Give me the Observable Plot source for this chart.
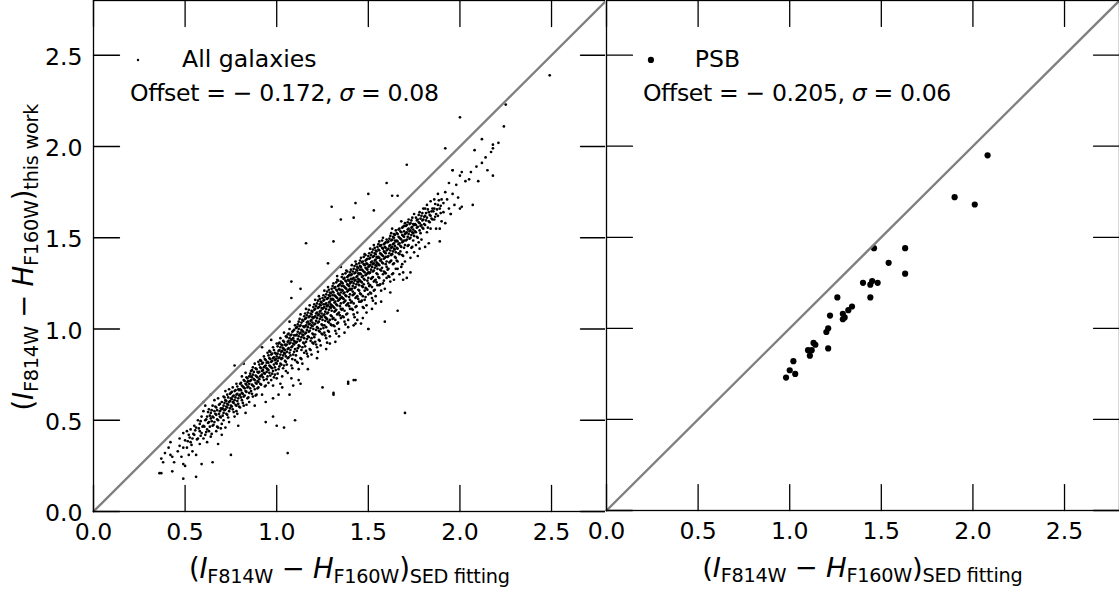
<!DOCTYPE html>
<html><head><meta charset="utf-8">
<script src="https://cdn.jsdelivr.net/npm/d3@7"></script>
<script src="https://cdn.jsdelivr.net/npm/@observablehq/plot@0.6"></script>
<style>
html,body{margin:0;padding:0;background:#fff;overflow:hidden;}
#wrap{position:relative;width:1119px;height:590px;overflow:hidden;background:#fff;}
#left,#right{position:absolute;top:0;}
#left{left:0;}
#right{left:605px;}
svg{display:block;overflow:visible;}
</style></head><body><div id="wrap"><div id="left"></div><div id="right"></div></div>
<script>
// ---------- data ----------
const xTicks = [0, 0.5, 1, 1.5, 2, 2.5];
const yTicks = [0, 0.5, 1, 1.5, 2, 2.5];
const axisDomain = [0, 2.8];
const oneToOne = [0, 2.8];
const panelNames = ["All galaxies", "PSB"];
const panelOffsets = [-0.172, -0.205];
const panelSigmas = [0.08, 0.06];
const xTitleSub = "SED fitting";
const yTitleSub = "this work";

const allGalaxiesA = [
[0.36,0.21],[0.37,0.29],[0.38,0.27],[0.39,0.32],
[0.42,0.31],[0.43,0.30],[0.43,0.22],[0.41,0.35],[0.44,0.27],[0.42,0.38],
[0.46,0.33],[0.47,0.40],[0.48,0.30],[0.49,0.35],[0.50,0.25],[0.49,0.26],[0.47,0.36],[0.49,0.43],
[0.50,0.39],[0.51,0.44],[0.51,0.35],[0.52,0.42],[0.52,0.31],[0.53,0.45],[0.53,0.38],[0.54,0.40],[0.54,0.33],[0.55,0.47],
[0.55,0.42],[0.56,0.31],[0.56,0.46],[0.56,0.19],[0.57,0.40],[0.57,0.50],[0.58,0.44],[0.58,0.37],[0.58,0.48],[0.59,0.43],[0.59,0.26],[0.59,0.52],[0.60,0.40],
[0.60,0.47],[0.60,0.55],[0.61,0.42],[0.61,0.50],[0.61,0.58],[0.62,0.45],[0.62,0.52],[0.62,0.38],[0.63,0.49],[0.63,0.56],[0.63,0.44],[0.64,0.51],[0.64,0.41],[0.64,0.54],[0.65,0.27],[0.65,0.47],
[0.65,0.52],[0.65,0.58],[0.66,0.49],[0.66,0.55],[0.66,0.61],[0.67,0.44],[0.67,0.53],[0.67,0.57],[0.68,0.50],[0.68,0.62],[0.68,0.46],[0.69,0.55],[0.69,0.52],[0.69,0.59],[0.70,0.48],[0.70,0.56],[0.70,0.42],[0.68,0.37],
[0.70,0.60],[0.71,0.54],[0.71,0.58],[0.71,0.63],[0.71,0.50],[0.72,0.56],[0.72,0.61],[0.72,0.46],[0.72,0.66],[0.73,0.59],[0.73,0.53],[0.73,0.57],[0.73,0.64],[0.74,0.49],[0.74,0.60],[0.74,0.55],[0.74,0.67],[0.75,0.58],[0.75,0.31],[0.75,0.62],
[0.75,0.65],[0.76,0.60],[0.76,0.56],[0.76,0.68],[0.76,0.63],[0.77,0.52],[0.77,0.61],[0.77,0.66],[0.77,0.80],[0.78,0.58],[0.78,0.64],[0.78,0.70],[0.78,0.55],[0.79,0.62],[0.79,0.67],[0.79,0.47],[0.79,0.59],[0.80,0.64],[0.80,0.70],[0.80,0.57],
[0.80,0.67],[0.81,0.61],[0.81,0.69],[0.81,0.74],[0.81,0.65],[0.82,0.58],[0.82,0.68],[0.82,0.72],[0.82,0.63],[0.83,0.70],[0.83,0.66],[0.83,0.76],[0.83,0.54],[0.84,0.68],[0.84,0.62],[0.84,0.73],[0.84,0.71],[0.85,0.65],[0.85,0.74],[0.85,0.60],
[0.85,0.70],[0.86,0.72],[0.86,0.77],[0.86,0.66],[0.86,0.74],[0.87,0.69],[0.87,0.79],[0.87,0.63],[0.87,0.75],[0.88,0.72],[0.88,0.67],[0.88,0.81],[0.88,0.58],[0.89,0.74],[0.89,0.70],[0.89,0.78],[0.89,0.64],[0.90,0.76],[0.90,0.71],[0.90,0.82],
[0.90,0.68],[0.91,0.74],[0.91,0.79],[0.91,0.83],[0.91,0.70],[0.92,0.77],[0.92,0.81],[0.92,0.64],[0.92,0.75],[0.93,0.79],[0.93,0.72],[0.93,0.85],[0.93,0.76],[0.94,0.80],[0.94,0.69],[0.94,0.83],[0.94,0.60],[0.95,0.78],[0.95,0.74],[0.95,0.87],[0.92,0.90],[0.95,0.82],
[0.96,0.80],[0.96,0.84],[0.96,0.76],[0.96,0.88],[0.97,0.82],[0.97,0.72],[0.97,0.86],[0.97,0.79],[0.98,0.84],[0.98,0.77],[0.98,0.90],[0.98,0.69],[0.99,0.83],[0.99,0.87],[0.99,0.79],[0.99,0.75],[1.00,0.85],[1.00,0.81],[1.00,0.92],[1.00,0.73],[0.98,0.62],[0.97,0.94],
[1.01,0.84],[1.01,0.88],[1.01,0.92],[1.01,0.78],[1.02,0.86],[1.02,0.90],[1.02,0.81],[1.02,0.95],[1.03,0.88],[1.03,0.84],[1.03,0.74],[1.03,0.91],[1.04,0.87],[1.04,0.93],[1.04,0.80],[1.04,0.89],[1.05,0.85],[1.05,0.96],[1.05,0.91],[1.05,0.77],[1.03,0.68],[1.04,0.98],[1.02,0.70],[1.05,0.82],
[1.06,0.93],[1.06,0.89],[1.06,0.97],[1.06,0.84],[1.07,0.92],[1.07,0.95],[1.07,0.87],[1.07,1.00],[1.08,0.94],[1.08,0.90],[1.08,0.80],[1.08,0.97],[1.09,0.92],[1.09,0.99],[1.09,0.86],[1.09,0.95],[1.10,0.93],[1.10,0.89],[1.10,1.02],[1.10,0.83],[1.08,0.73],[1.06,0.76],[1.09,0.69],[1.07,1.04],
[1.11,0.97],[1.11,0.93],[1.11,1.01],[1.11,0.88],[1.12,0.96],[1.12,1.00],[1.12,0.91],[1.12,1.04],[1.13,0.98],[1.13,0.94],[1.13,0.84],[1.13,1.02],[1.14,0.97],[1.14,1.05],[1.14,0.90],[1.14,0.99],[1.15,0.95],[1.15,1.01],[1.15,1.07],[1.15,0.87],[1.12,0.78],[1.14,0.81],[1.13,1.08],[1.11,0.82],[1.15,0.92],[1.12,0.72],
[1.16,1.02],[1.16,0.98],[1.16,1.06],[1.16,0.93],[1.17,1.01],[1.17,1.04],[1.17,0.96],[1.17,1.09],[1.18,1.03],[1.18,0.99],[1.18,0.89],[1.18,1.07],[1.19,1.02],[1.19,1.10],[1.19,0.95],[1.19,1.05],[1.20,1.00],[1.20,1.06],[1.20,1.12],[1.20,0.92],[1.17,0.85],[1.19,0.86],[1.18,1.13],[1.16,0.88],[1.20,0.97],[1.17,0.78],[1.19,1.08],[1.16,1.11],
[1.21,1.07],[1.21,1.03],[1.21,1.11],[1.21,0.97],[1.22,1.06],[1.22,1.09],[1.22,1.01],[1.22,1.14],[1.23,1.08],[1.23,1.04],[1.23,0.94],[1.23,1.12],[1.24,1.07],[1.24,1.15],[1.24,1.00],[1.24,1.10],[1.25,1.05],[1.25,1.11],[1.25,1.17],[1.25,0.97],[1.22,0.90],[1.24,0.91],[1.23,1.18],[1.21,0.93],[1.25,1.02],[1.22,0.84],[1.24,1.13],[1.21,1.16],[1.23,0.99],[1.25,0.68],
[1.26,1.12],[1.26,1.08],[1.26,1.16],[1.26,1.02],[1.27,1.11],[1.27,1.14],[1.27,1.06],[1.27,1.19],[1.28,1.13],[1.28,1.09],[1.28,0.99],[1.28,1.17],[1.29,1.12],[1.29,1.20],[1.29,1.05],[1.29,1.15],[1.30,1.10],[1.30,1.16],[1.30,1.22],[1.30,1.02],[1.27,0.95],[1.29,0.96],[1.28,1.23],[1.26,0.98],[1.30,1.07],[1.27,0.89],[1.29,1.18],[1.26,1.21],[1.28,1.04],[1.30,1.13],[1.27,1.01],[1.29,0.92],
[1.31,1.16],[1.31,1.12],[1.31,1.20],[1.31,1.06],[1.32,1.15],[1.32,1.18],[1.32,1.10],[1.32,1.23],[1.33,1.17],[1.33,1.13],[1.33,1.03],[1.33,1.21],[1.34,1.16],[1.34,1.24],[1.34,1.09],[1.34,1.19],[1.35,1.14],[1.35,1.20],[1.35,1.26],[1.35,1.06],[1.32,0.99],[1.34,1.00],[1.33,1.27],[1.31,1.02],[1.35,1.11],[1.32,0.93],[1.34,1.22],[1.31,1.25],[1.33,1.08],[1.35,1.17],[1.32,1.05],[1.34,0.96],[1.31,0.64],[1.33,1.29],
[1.36,1.21],[1.36,1.17],[1.36,1.25],[1.36,1.11],[1.37,1.20],[1.37,1.23],[1.37,1.15],[1.37,1.28],[1.38,1.22],[1.38,1.18],[1.38,1.08],[1.38,1.26],[1.39,1.21],[1.39,1.29],[1.39,1.14],[1.39,1.24],[1.40,1.19],[1.40,1.25],[1.40,1.31],[1.40,1.11],[1.37,1.04],[1.39,1.05],[1.38,1.32],[1.36,1.07],[1.40,1.16],[1.37,0.98],[1.39,1.27],[1.36,1.30],[1.38,1.13],[1.40,1.22],[1.37,1.10],[1.39,1.01],[1.39,0.70],[1.35,1.34],
[1.41,1.26],[1.41,1.22],[1.41,1.30],[1.41,1.15],[1.42,1.25],[1.42,1.28],[1.42,1.19],[1.42,1.33],[1.43,1.27],[1.43,1.23],[1.43,1.12],[1.43,1.31],[1.44,1.26],[1.44,1.34],[1.44,1.18],[1.44,1.29],[1.45,1.24],[1.45,1.30],[1.45,1.36],[1.45,1.15],[1.42,1.08],[1.44,1.09],[1.43,1.37],[1.41,1.11],[1.45,1.21],[1.42,1.02],[1.44,1.32],[1.41,1.35],[1.43,1.17],[1.45,1.27],[1.42,1.14],[1.44,1.05],[1.42,0.72],[1.43,1.03],
[1.46,1.30],[1.46,1.26],[1.46,1.34],[1.46,1.19],[1.47,1.29],[1.47,1.32],[1.47,1.23],[1.47,1.37],[1.48,1.31],[1.48,1.27],[1.48,1.16],[1.48,1.35],[1.49,1.30],[1.49,1.38],[1.49,1.22],[1.49,1.33],[1.50,1.28],[1.50,1.34],[1.50,1.40],[1.50,1.19],[1.47,1.12],[1.49,1.13],[1.48,1.41],[1.46,1.15],[1.50,1.25],[1.47,1.06],[1.49,1.36],[1.46,1.39],[1.48,1.21],[1.50,1.31],[1.47,1.18],[1.49,1.09],[1.50,1.00],[1.46,1.03],
[1.51,1.35],[1.51,1.31],[1.51,1.39],[1.51,1.24],[1.52,1.34],[1.52,1.37],[1.52,1.28],[1.52,1.42],[1.53,1.36],[1.53,1.32],[1.53,1.21],[1.53,1.40],[1.54,1.35],[1.54,1.43],[1.54,1.27],[1.54,1.38],[1.55,1.33],[1.55,1.39],[1.55,1.45],[1.55,1.24],[1.52,1.17],[1.54,1.18],[1.53,1.46],[1.51,1.20],[1.55,1.30],[1.52,1.11],[1.54,1.41],[1.51,1.44],[1.53,1.26],[1.55,1.36],[1.52,1.23],[1.54,1.14],
[1.56,1.39],[1.56,1.35],[1.56,1.43],[1.56,1.28],[1.57,1.38],[1.57,1.41],[1.57,1.32],[1.57,1.46],[1.58,1.40],[1.58,1.36],[1.58,1.25],[1.58,1.44],[1.59,1.39],[1.59,1.47],[1.59,1.31],[1.59,1.42],[1.60,1.37],[1.60,1.43],[1.60,1.49],[1.60,1.28],[1.57,1.21],[1.59,1.22],[1.58,1.50],[1.56,1.24],[1.60,1.34],[1.57,1.15],[1.59,1.45],[1.56,1.48],[1.58,1.30],[1.59,1.04],
[1.61,1.44],[1.61,1.40],[1.61,1.48],[1.61,1.33],[1.62,1.43],[1.62,1.46],[1.62,1.37],[1.62,1.51],[1.63,1.45],[1.63,1.41],[1.63,1.30],[1.63,1.49],[1.64,1.44],[1.64,1.52],[1.64,1.36],[1.64,1.47],[1.65,1.42],[1.65,1.48],[1.65,1.54],[1.65,1.33],[1.62,1.26],[1.64,1.27],[1.63,1.55],[1.61,1.29],[1.65,1.39],[1.62,1.20],[1.64,1.50],[1.66,1.10],
[1.66,1.48],[1.66,1.44],[1.66,1.52],[1.66,1.37],[1.67,1.47],[1.67,1.50],[1.67,1.41],[1.67,1.55],[1.68,1.49],[1.68,1.45],[1.68,1.34],[1.68,1.53],[1.69,1.48],[1.69,1.56],[1.69,1.40],[1.69,1.51],[1.70,1.46],[1.70,1.52],[1.70,1.58],[1.70,1.37],[1.67,1.30],[1.69,1.31],[1.68,1.59],[1.66,1.33],[1.70,0.54],[1.69,1.27],
[1.71,1.53],[1.71,1.49],[1.71,1.57],[1.71,1.42],[1.72,1.52],[1.72,1.55],[1.72,1.46],[1.72,1.60],[1.73,1.54],[1.73,1.50],[1.73,1.39],[1.73,1.58],[1.74,1.53],[1.74,1.61],[1.74,1.45],[1.74,1.56],[1.75,1.51],[1.75,1.57],[1.75,1.63],[1.75,1.42],[1.73,1.31],[1.71,1.28],
[1.76,1.57],[1.76,1.53],[1.76,1.61],[1.76,1.46],[1.77,1.56],[1.77,1.60],[1.77,1.50],[1.78,1.58],[1.78,1.54],[1.78,1.64],[1.78,1.44],[1.79,1.57],[1.79,1.62],[1.79,1.49],[1.80,1.55],[1.80,1.66],[1.80,1.60],[1.77,1.40],
[1.81,1.62],[1.81,1.57],[1.81,1.66],[1.82,1.53],[1.82,1.61],[1.82,1.68],[1.83,1.59],[1.83,1.64],[1.83,1.47],[1.84,1.62],[1.84,1.70],[1.84,1.55],[1.85,1.60],[1.85,1.66],
[1.86,1.66],[1.86,1.60],[1.86,1.71],[1.87,1.63],[1.87,1.55],[1.88,1.68],[1.88,1.74],[1.88,1.62],[1.89,1.48],[1.89,1.66],[1.90,1.71],[1.90,1.59],
[1.91,1.69],[1.91,1.64],[1.92,1.75],[1.92,1.58],[1.93,1.71],[1.94,1.66],[1.94,1.80],[1.95,1.63],
[1.96,1.74],[1.96,1.87],[1.97,1.68],[1.98,1.79],[1.99,1.72],[2.00,1.84],[2.00,1.66],
[2.25,2.23],[2.24,2.11],[2.21,2.02],[2.18,2.01],[2.18,1.99],[2.17,1.97],[2.12,2.04],[2.08,1.98],[2.14,1.94],[2.12,1.91],[2.09,1.89],[2.15,1.87],[2.18,1.84],[2.10,1.81],[2.06,1.86],[2.05,1.82],[2.03,1.81],[2.01,1.86],[1.96,1.87],[2.01,1.67],[2.07,1.68],[1.95,1.63],[1.89,1.55],[1.81,1.45],
[1.30,1.67],[1.35,1.60],[1.43,1.69],[1.16,1.47],[1.08,1.26],[1.08,1.17],[1.13,1.22],[1.31,1.48],[1.28,1.36],[1.42,1.61],[1.50,1.74],[1.53,1.65],[1.60,1.80],[1.71,1.90],[1.92,1.99],[2.00,2.16],
[1.50,1.00],[1.39,0.71],[1.43,0.72],[1.31,0.65],[1.06,0.32],[0.49,0.18],[1.63,1.73],[1.66,1.73],[2.49,2.39],[0.82,0.81],[0.64,0.64],[0.60,0.60],[1.10,0.50],[1.04,0.46],[1.00,0.47],[0.94,0.49],[0.98,0.52],[1.07,0.64],[1.13,0.70],[1.01,0.64],[0.37,0.21]
];

const allGalaxiesB = [
[0.515,0.385],[0.525,0.405],[0.535,0.365],[0.545,0.425],[0.555,0.445],[0.565,0.395],[0.575,0.455],[0.585,0.415],[0.595,0.465],[0.585,0.495],
[0.605,0.465],[0.615,0.505],[0.615,0.435],[0.625,0.485],[0.625,0.545],[0.635,0.465],[0.635,0.525],[0.645,0.495],[0.645,0.425],[0.645,0.555],
[0.655,0.515],[0.655,0.475],[0.665,0.535],[0.665,0.575],[0.675,0.505],[0.675,0.555],[0.675,0.465],[0.685,0.535],[0.685,0.585],[0.695,0.515],[0.695,0.565],[0.695,0.455],
[0.705,0.565],[0.705,0.525],[0.715,0.595],[0.715,0.555],[0.715,0.625],[0.725,0.575],[0.725,0.535],[0.725,0.605],[0.735,0.585],[0.735,0.625],[0.735,0.515],[0.745,0.605],[0.745,0.565],[0.745,0.645],
[0.755,0.615],[0.755,0.575],[0.755,0.655],[0.765,0.635],[0.765,0.595],[0.765,0.545],[0.775,0.625],[0.775,0.665],[0.775,0.585],[0.785,0.645],[0.785,0.605],[0.785,0.685],[0.795,0.635],[0.795,0.575],[0.795,0.665],[0.785,0.535],
[0.805,0.665],[0.805,0.625],[0.805,0.705],[0.815,0.685],[0.815,0.645],[0.815,0.595],[0.825,0.675],[0.825,0.715],[0.825,0.635],[0.835,0.695],[0.835,0.655],[0.835,0.735],[0.845,0.685],[0.845,0.625],[0.845,0.715],[0.835,0.585],
[0.855,0.715],[0.855,0.675],[0.855,0.755],[0.865,0.735],[0.865,0.695],[0.865,0.645],[0.875,0.725],[0.875,0.765],[0.875,0.685],[0.885,0.745],[0.885,0.705],[0.885,0.785],[0.895,0.735],[0.895,0.675],[0.895,0.765],[0.885,0.635],[0.865,0.775],[0.895,0.715],
[0.905,0.765],[0.905,0.725],[0.905,0.805],[0.915,0.785],[0.915,0.745],[0.915,0.695],[0.925,0.775],[0.925,0.815],[0.925,0.735],[0.935,0.795],[0.935,0.755],[0.935,0.835],[0.945,0.785],[0.945,0.725],[0.945,0.815],[0.935,0.685],[0.915,0.825],[0.945,0.765],
[0.955,0.815],[0.955,0.775],[0.955,0.855],[0.965,0.835],[0.965,0.795],[0.965,0.745],[0.975,0.825],[0.975,0.865],[0.975,0.785],[0.985,0.845],[0.985,0.805],[0.985,0.885],[0.995,0.835],[0.995,0.775],[0.995,0.865],[0.985,0.735],[0.965,0.875],[0.995,0.815],[0.955,0.705],[0.975,0.755],
[1.005,0.865],[1.005,0.825],[1.005,0.905],[1.015,0.885],[1.015,0.845],[1.015,0.795],[1.025,0.875],[1.025,0.915],[1.025,0.835],[1.035,0.895],[1.035,0.855],[1.035,0.935],[1.045,0.885],[1.045,0.825],[1.045,0.915],[1.035,0.785],[1.015,0.925],[1.045,0.865],[1.005,0.755],[1.025,0.805],
[1.055,0.915],[1.055,0.875],[1.055,0.955],[1.065,0.935],[1.065,0.895],[1.065,0.845],[1.075,0.925],[1.075,0.965],[1.075,0.885],[1.085,0.945],[1.085,0.905],[1.085,0.985],[1.095,0.935],[1.095,0.875],[1.095,0.965],[1.085,0.835],[1.065,0.975],[1.095,0.915],[1.055,0.805],[1.075,0.855],[1.085,0.785],[1.095,0.995],
[1.105,0.965],[1.105,0.925],[1.105,1.005],[1.115,0.985],[1.115,0.945],[1.115,0.895],[1.125,0.975],[1.125,1.015],[1.125,0.935],[1.135,0.995],[1.135,0.955],[1.135,1.035],[1.145,0.985],[1.145,0.925],[1.145,1.015],[1.135,0.885],[1.115,1.025],[1.145,0.965],[1.105,0.855],[1.125,0.905],[1.135,0.835],[1.145,1.045],[1.115,0.815],[1.125,1.055],
[1.155,1.015],[1.155,0.975],[1.155,1.055],[1.165,1.035],[1.165,0.995],[1.165,0.945],[1.175,1.025],[1.175,1.065],[1.175,0.985],[1.185,1.045],[1.185,1.005],[1.185,1.085],[1.195,1.035],[1.195,0.975],[1.195,1.065],[1.185,0.935],[1.165,1.075],[1.195,1.015],[1.155,0.905],[1.175,0.955],[1.185,0.885],[1.195,1.095],[1.165,0.865],[1.175,1.105],[1.155,1.085],[1.195,0.925],
[1.205,1.065],[1.205,1.025],[1.205,1.105],[1.215,1.085],[1.215,1.045],[1.215,0.995],[1.225,1.075],[1.225,1.115],[1.225,1.035],[1.235,1.095],[1.235,1.055],[1.235,1.135],[1.245,1.085],[1.245,1.025],[1.245,1.115],[1.235,0.985],[1.215,1.125],[1.245,1.065],[1.205,0.955],[1.225,1.005],[1.235,0.935],[1.245,1.145],[1.215,0.915],[1.225,1.155],[1.205,1.135],[1.245,0.975],[1.225,0.875],[1.235,1.165],
[1.255,1.115],[1.255,1.075],[1.255,1.155],[1.265,1.135],[1.265,1.095],[1.265,1.045],[1.275,1.125],[1.275,1.165],[1.275,1.085],[1.285,1.145],[1.285,1.105],[1.285,1.185],[1.295,1.135],[1.295,1.075],[1.295,1.165],[1.285,1.035],[1.265,1.175],[1.295,1.115],[1.255,1.005],[1.275,1.055],[1.285,0.985],[1.295,1.195],[1.265,0.965],[1.275,1.205],[1.255,1.185],[1.295,1.025],[1.275,0.925],[1.285,1.215],[1.265,1.065],[1.255,1.135],
[1.305,1.165],[1.305,1.125],[1.305,1.205],[1.315,1.185],[1.315,1.145],[1.315,1.095],[1.325,1.175],[1.325,1.215],[1.325,1.135],[1.335,1.195],[1.335,1.155],[1.335,1.235],[1.345,1.185],[1.345,1.125],[1.345,1.215],[1.335,1.085],[1.315,1.225],[1.345,1.165],[1.305,1.055],[1.325,1.105],[1.335,1.035],[1.345,1.245],[1.315,1.015],[1.325,1.255],[1.305,1.235],[1.345,1.075],[1.325,0.975],[1.335,1.265],[1.315,1.115],[1.305,1.185],
[1.355,1.215],[1.355,1.175],[1.355,1.255],[1.365,1.235],[1.365,1.195],[1.365,1.145],[1.375,1.225],[1.375,1.265],[1.375,1.185],[1.385,1.245],[1.385,1.205],[1.385,1.285],[1.395,1.235],[1.395,1.175],[1.395,1.265],[1.385,1.135],[1.365,1.275],[1.395,1.215],[1.355,1.105],[1.375,1.155],[1.385,1.085],[1.395,1.295],[1.365,1.065],[1.375,1.305],[1.355,1.285],[1.395,1.125],[1.375,1.025],[1.385,1.315],[1.365,1.165],[1.355,1.235],
[1.405,1.255],[1.405,1.215],[1.405,1.295],[1.415,1.275],[1.415,1.235],[1.415,1.185],[1.425,1.265],[1.425,1.305],[1.425,1.225],[1.435,1.285],[1.435,1.245],[1.435,1.325],[1.445,1.275],[1.445,1.215],[1.445,1.305],[1.435,1.175],[1.415,1.315],[1.445,1.255],[1.405,1.145],[1.425,1.195],[1.435,1.125],[1.445,1.335],[1.415,1.105],[1.425,1.345],[1.405,1.325],[1.445,1.165],[1.425,1.065],[1.435,1.355],[1.415,1.205],[1.405,1.275],
[1.455,1.305],[1.455,1.265],[1.455,1.345],[1.465,1.325],[1.465,1.285],[1.465,1.235],[1.475,1.315],[1.475,1.355],[1.475,1.275],[1.485,1.335],[1.485,1.295],[1.485,1.375],[1.495,1.325],[1.495,1.265],[1.495,1.355],[1.485,1.225],[1.465,1.365],[1.495,1.305],[1.455,1.195],[1.475,1.245],[1.485,1.175],[1.495,1.385],[1.465,1.155],[1.475,1.395],[1.455,1.375],[1.495,1.215],[1.475,1.115],[1.485,1.405],[1.465,1.255],[1.455,1.325],
[1.505,1.345],[1.505,1.305],[1.505,1.385],[1.515,1.365],[1.515,1.325],[1.515,1.275],[1.525,1.355],[1.525,1.395],[1.525,1.315],[1.535,1.375],[1.535,1.335],[1.535,1.415],[1.545,1.365],[1.545,1.305],[1.545,1.395],[1.535,1.265],[1.515,1.405],[1.545,1.345],[1.505,1.235],[1.525,1.285],[1.535,1.215],[1.545,1.425],[1.515,1.195],[1.525,1.435],[1.505,1.415],[1.545,1.255],[1.525,1.155],[1.535,1.445],
[1.555,1.395],[1.555,1.355],[1.555,1.435],[1.565,1.415],[1.565,1.375],[1.565,1.325],[1.575,1.405],[1.575,1.445],[1.575,1.365],[1.585,1.425],[1.585,1.385],[1.585,1.465],[1.595,1.415],[1.595,1.355],[1.595,1.445],[1.585,1.315],[1.565,1.455],[1.595,1.395],[1.555,1.285],[1.575,1.335],[1.585,1.265],[1.595,1.475],[1.565,1.245],[1.575,1.485],[1.555,1.465],[1.595,1.305],
[1.605,1.435],[1.605,1.395],[1.605,1.475],[1.615,1.455],[1.615,1.415],[1.615,1.365],[1.625,1.445],[1.625,1.485],[1.625,1.405],[1.635,1.465],[1.635,1.425],[1.635,1.505],[1.645,1.455],[1.645,1.395],[1.645,1.485],[1.635,1.355],[1.615,1.495],[1.645,1.435],[1.605,1.325],[1.625,1.375],[1.635,1.305],[1.645,1.515],[1.615,1.285],[1.625,1.525],
[1.655,1.485],[1.655,1.445],[1.655,1.525],[1.665,1.505],[1.665,1.465],[1.665,1.415],[1.675,1.495],[1.675,1.535],[1.675,1.455],[1.685,1.515],[1.685,1.475],[1.685,1.555],[1.695,1.505],[1.695,1.445],[1.695,1.535],[1.685,1.405],[1.665,1.545],[1.695,1.485],[1.655,1.375],[1.675,1.425],[1.685,1.355],[1.695,1.565],
[1.705,1.525],[1.705,1.485],[1.705,1.565],[1.715,1.545],[1.715,1.505],[1.715,1.455],[1.725,1.535],[1.725,1.575],[1.725,1.495],[1.735,1.555],[1.735,1.515],[1.735,1.595],[1.745,1.545],[1.745,1.485],[1.745,1.575],[1.735,1.445],[1.715,1.585],[1.745,1.525],
[1.755,1.575],[1.755,1.535],[1.765,1.595],[1.765,1.555],[1.765,1.505],[1.775,1.585],[1.775,1.625],[1.785,1.565],[1.785,1.605],[1.785,1.525],[1.795,1.595],[1.795,1.555],[1.795,1.635],[1.775,1.475],
[1.805,1.615],[1.805,1.575],[1.815,1.635],[1.815,1.595],[1.825,1.655],[1.825,1.555],[1.835,1.625],[1.835,1.585],[1.845,1.645],[1.845,1.605],
[1.855,1.645],[1.865,1.685],[1.865,1.615],[1.875,1.655],[1.885,1.705],[1.895,1.635],[1.895,1.675]
];
const allGalaxies = allGalaxiesA.concat(allGalaxiesB);

const psbX = [2.08,1.90,2.01,1.46,1.63,1.54,1.63,1.40,1.45,1.44,1.48,1.44,1.26,1.34,1.32,1.29,1.30,1.29,1.22,1.21,1.20,1.21,1.13,1.14,1.10,1.12,1.11,1.02,1.00,1.03,0.98];
const psbY = [1.95,1.72,1.68,1.44,1.44,1.36,1.30,1.25,1.26,1.24,1.25,1.17,1.17,1.12,1.10,1.08,1.06,1.05,1.07,1.00,0.98,0.89,0.92,0.91,0.88,0.88,0.85,0.82,0.77,0.75,0.73];
const psb = psbX.map((x, i) => ({x, y: psbY[i]}));

// ---------- helpers ----------
const FONT = "DejaVu Sans";
const tickShape = {draw(context, l) { context.moveTo(0, 0); context.lineTo(0, -l); }};
const tickLen = 26, lineW = 1.3;
function tickMarks() {
  const common = {length: tickLen, anchor: "start", shape: tickShape, stroke: "black", strokeWidth: lineW};
  return [
    Plot.vector(xTicks, {x: d => d, frameAnchor: "bottom", rotate: 0, ...common}),
    Plot.vector(xTicks, {x: d => d, frameAnchor: "top", rotate: 180, ...common}),
    Plot.vector(yTicks, {y: d => d, frameAnchor: "left", rotate: 90, ...common}),
    Plot.vector(yTicks, {y: d => d, frameAnchor: "right", rotate: 270, ...common})
  ];
}
const fmt = d => d.toFixed(1);
const minus = "\u2212";

function addLegend(svg, x0, idx, markerR) {
  const g = svg.append("g").attr("font-family", FONT).attr("font-size", 23.6)
    .attr("fill", "black").attr("text-anchor", "start");
  g.append("circle").attr("cx", x0 + 45).attr("cy", 60).attr("r", markerR).attr("fill", "black");
  g.append("text").attr("x", x0 + 89).attr("y", 67).attr("text-anchor", "start").text(panelNames[idx]);
  const t = g.append("text").attr("x", x0 + 37).attr("y", 101).attr("text-anchor", "start")
    .attr("textLength", 309).attr("lengthAdjust", "spacing");
  const off = panelOffsets[idx];
  t.append("tspan").text("Offset = " + (off < 0 ? minus + " " : "") + Math.abs(off).toFixed(3) + ", ");
  t.append("tspan").attr("font-style", "italic").text("\u03C3");
  t.append("tspan").text(" = " + panelSigmas[idx].toFixed(2));
}

function addTitle(sel, sub, len) {
  const t = sel.append("text").attr("font-family", FONT).attr("font-size", 27.5)
    .attr("fill", "black").attr("text-anchor", "middle")
    .attr("textLength", len).attr("lengthAdjust", "spacing");
  t.append("tspan").text("(");
  t.append("tspan").attr("font-style", "italic").text("I");
  t.append("tspan").attr("font-size", 19.3).attr("dy", 5).text("F814W");
  t.append("tspan").attr("dy", -5).text(" " + minus + " ");
  t.append("tspan").attr("font-style", "italic").text("H");
  t.append("tspan").attr("font-size", 19.3).attr("dy", 5).text("F160W");
  t.append("tspan").attr("dy", -5).text(")");
  t.append("tspan").attr("font-size", 19.3).attr("dy", 5).text(sub);
  return t;
}

// ---------- left panel ----------
const left = Plot.plot({
  width: 606, height: 590,
  marginLeft: 93, marginRight: 0, marginTop: 0, marginBottom: 79,
  style: {fontFamily: FONT, background: "white", color: "black"},
  x: {domain: axisDomain, axis: null},
  y: {domain: axisDomain, axis: null},
  marks: [
    Plot.dot(allGalaxies, {x: d => d[0], y: d => d[1], r: 1.35, fill: "black", stroke: "none"}),
    Plot.line(oneToOne, {x: d => d, y: d => d, stroke: "#808080", strokeWidth: 2.4}),
    ...tickMarks(),
    Plot.axisX(xTicks, {anchor: "bottom", tickSize: 0, tickPadding: 12, fontSize: 23.6, tickFormat: fmt, label: null}),
    Plot.axisY(yTicks, {anchor: "left", tickSize: 0, tickPadding: 11, fontSize: 23.6, tickFormat: fmt, label: null, dy: 2}),
    Plot.frame({stroke: "black", strokeWidth: lineW})
  ]
});
document.getElementById("left").appendChild(left);
const ls = d3.select(left);
addLegend(ls, 93, 0, 1.2);
addTitle(ls, xTitleSub, 321).attr("x", 349.5).attr("y", 578);
addTitle(ls, yTitleSub, 307).attr("transform", "translate(33,257) rotate(-90)");

// ---------- right panel ----------
const right = Plot.plot({
  width: 515, height: 590,
  marginLeft: 1, marginRight: 0, marginTop: 0, marginBottom: 79,
  style: {fontFamily: FONT, background: "white", color: "black"},
  x: {domain: axisDomain, axis: null},
  y: {domain: axisDomain, axis: null},
  marks: [
    Plot.dot(psb, {x: "x", y: "y", r: 3.1, fill: "black", stroke: "none"}),
    Plot.line(oneToOne, {x: d => d, y: d => d, stroke: "#808080", strokeWidth: 2.4}),
    ...tickMarks(),
    Plot.axisX(xTicks, {anchor: "bottom", tickSize: 0, tickPadding: 12, fontSize: 23.6, tickFormat: fmt, label: null}),
    Plot.frame({stroke: "black", strokeWidth: lineW})
  ]
});
document.getElementById("right").appendChild(right);
const rs = d3.select(right);
addLegend(rs, 1, 1, 3.1);
addTitle(rs, xTitleSub, 321).attr("x", 258).attr("y", 578);
</script></body></html>
